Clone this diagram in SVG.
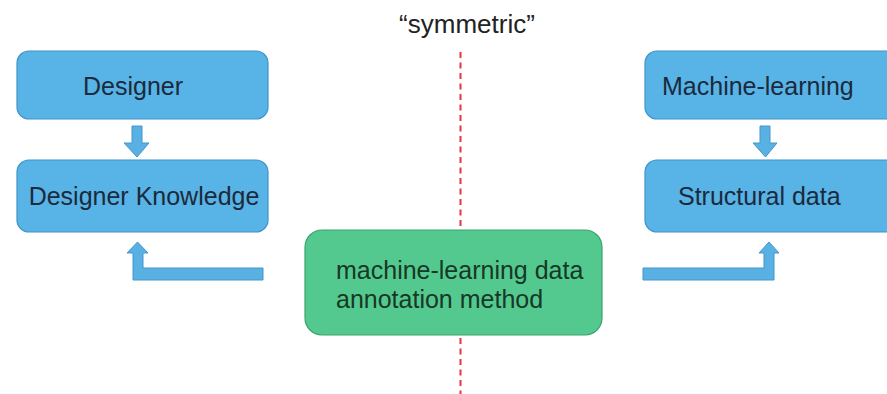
<svg xmlns="http://www.w3.org/2000/svg" width="887" height="394" viewBox="0 0 887 394">
  <style>
    .blue { fill: #58b3e6; stroke: #3f93c6; stroke-width: 1.2; }
    .green { fill: #53c98f; stroke: #3aa470; stroke-width: 1.2; }
    .lbl { font-family: "Liberation Sans", Arial, sans-serif; font-size: 25px; fill: #1b2a3c; }
    .glbl { font-family: "Liberation Sans", Arial, sans-serif; font-size: 25px; fill: #173826; }
    .title { font-family: "Liberation Sans", Arial, sans-serif; font-size: 26px; fill: #222; }
    .arrow { fill: #58b0e3; stroke: #4596cc; stroke-width: 1; }
    .axis { stroke: #e8343f; stroke-width: 2; stroke-dasharray: 6 4.5; fill: none; }
  </style>
  <rect width="887" height="394" fill="#ffffff"/>

  <text class="title" x="467" y="33" text-anchor="middle">“symmetric”</text>

  <g id="axis">
    <line class="axis" x1="460.5" y1="52" x2="460.5" y2="230"/>
    <line class="axis" x1="460.5" y1="338" x2="460.5" y2="394"/>
  </g>

  <g id="designer">
    <rect class="blue" x="17" y="51" width="251" height="68" rx="12"/>
    <text class="lbl" x="133" y="95" text-anchor="middle">Designer</text>
  </g>
  <g id="designer-knowledge">
    <rect class="blue" x="17" y="160" width="251" height="72" rx="12"/>
    <text class="lbl" x="144" y="205" text-anchor="middle">Designer Knowledge</text>
  </g>
  <g id="machine-learning">
    <rect class="blue" x="645" y="51" width="260" height="68" rx="12"/>
    <text class="lbl" x="662" y="95">Machine-learning</text>
  </g>
  <g id="structural-data">
    <rect class="blue" x="645" y="160" width="260" height="72" rx="12"/>
    <text class="lbl" x="678" y="205">Structural data</text>
  </g>
  <g id="annotation-method">
    <rect class="green" x="305" y="230" width="297" height="105" rx="17"/>
    <text class="glbl" x="336" y="279">machine-learning data</text>
    <text class="glbl" x="336" y="308">annotation method</text>
  </g>

  <g id="connectors">
    <path class="arrow" d="M132,126 H142 V143 H149 L137,157 L124,143 H132 Z"/>
    <path class="arrow" d="M760,126 H770 V143 H777 L765.5,157 L753,143 H760 Z"/>
    <path class="arrow" d="M263,268 V280 H133 V253 H127 L137.5,242 L148,253 H143 V268 Z"/>
    <path class="arrow" d="M643,268 V280 H774 V253 H779 L769,242 L759,253 H764 V268 Z"/>
  </g>
</svg>
